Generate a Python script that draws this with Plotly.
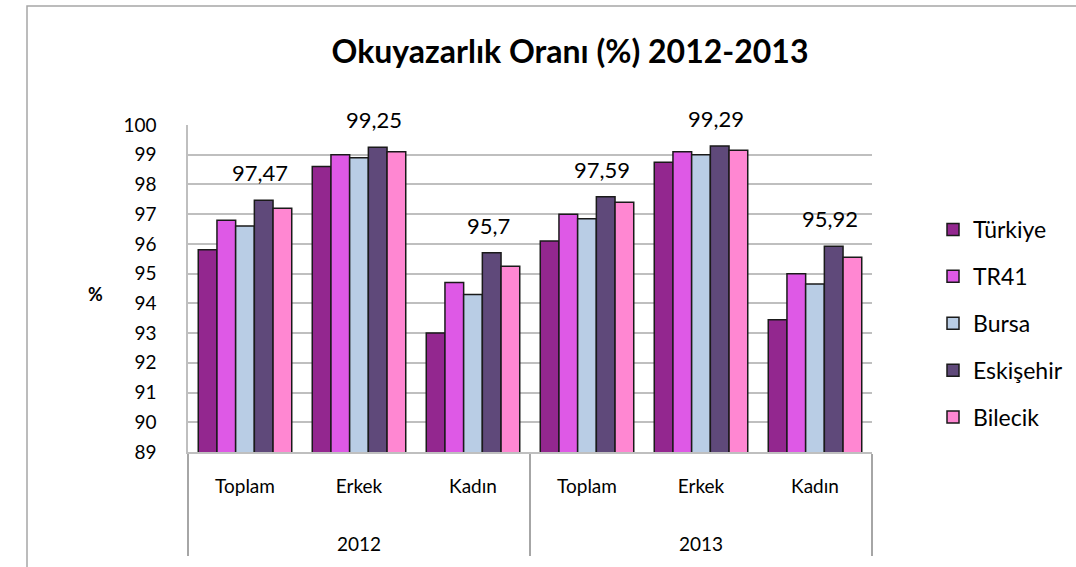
import plotly.graph_objects as go

years = ["2012", "2012", "2012", "2013", "2013", "2013"]
groups = ["Toplam", "Erkek", "Kadın", "Toplam", "Erkek", "Kadın"]

series_names = ["Türkiye", "TR41", "Bursa", "Eskişehir", "Bilecik"]
turkiye = [95.8, 98.6, 93.0, 96.1, 98.75, 93.45]
tr41 = [96.8, 99.0, 94.7, 97.0, 99.1, 95.0]
bursa = [96.6, 98.9, 94.3, 96.85, 99.0, 94.65]
eskisehir = [97.47, 99.25, 95.7, 97.59, 99.29, 95.92]
bilecik = [97.2, 99.1, 95.25, 97.4, 99.15, 95.55]

colors = ["#93278F", "#DE59E6", "#B9CDE5", "#5F497A", "#FF87D2"]
values = [turkiye, tr41, bursa, eskisehir, bilecik]
labelled_series = "Eskişehir"

FONT = "Lato"
BARGAP = 0.18

# outer level shown lower, as in the reference
outer = ["<br><br>" + y for y in years]

fig = go.Figure()
for name, vals, col in zip(series_names, values, colors):
    fig.add_trace(go.Bar(
        name=name,
        x=[outer, groups],
        y=vals,
        marker=dict(color=col, line=dict(color="#1a1a1a", width=1.5)),
        legendgroup=name,
    ))

# data labels above the labelled series (slot offset from grouped-bar layout)
n = len(series_names)
k = series_names.index(labelled_series)
slot = (1 - BARGAP) / n
off = -(1 - BARGAP) / 2 + (k + 0.5) * slot
for i, v in enumerate(values[k]):
    fig.add_annotation(x=i + off - 0.03, y=v, xref="x", yref="y",
                       text=f"{v:g}".replace(".", ","), showarrow=False,
                       yanchor="bottom", yshift=12,
                       font=dict(size=22, family=FONT, color="#000000"))

PL, PR, PT, PB = 188, 872, 125, 452
PW, PH = PR - PL, PB - PT

fig.update_layout(
    width=1076, height=567,
    paper_bgcolor="white", plot_bgcolor="white",
    separators=",.",
    barmode="group", bargap=BARGAP, bargroupgap=0,
    margin=dict(l=PL, r=1076 - PR, t=PT, b=567 - PB, autoexpand=False),
    font=dict(family=FONT, size=18, color="#000000"),
    title=dict(text="<b>Okuyazarlık Oranı (%) 2012-2013</b>",
               x=570 / 1076, xanchor="center", y=1 - 52 / 567, yanchor="middle",
               font=dict(size=32, family=FONT, color="#000000")),
    legend=dict(x=(933 - PL) / PW, xanchor="left", y=(PB - 208) / PH, yanchor="top",
                font=dict(size=23, family=FONT),
                tracegroupgap=14, traceorder="grouped",
                itemwidth=30, bgcolor="rgba(0,0,0,0)"),
    showlegend=True,
)

fig.update_yaxes(range=[89, 100], dtick=1, showgrid=True,
                 gridcolor="#BFBFBF", gridwidth=2,
                 showline=True, linecolor="#BFBFBF", linewidth=1.5,
                 ticks="", ticklabelstandoff=26,
                 tickfont=dict(size=19, family=FONT), zeroline=False)
fig.update_xaxes(showline=True, linecolor="#BFBFBF", linewidth=1.5,
                 tickfont=dict(size=19, family=FONT), ticklabelstandoff=16,
                 showdividers=True, dividercolor="#A6A6A6", dividerwidth=1.5)

fig.add_annotation(text="<b>%</b>", xref="paper", yref="paper",
                   x=(86 - PL) / PW, y=(PB - 294) / PH,
                   showarrow=False, font=dict(size=18, family=FONT))

fig.add_shape(type="rect", xref="paper", yref="paper",
              x0=(27 - PL) / PW, x1=(1100 - PL) / PW,
              y0=-0.6, y1=(PB - 6) / PH,
              line=dict(color="#A6A6A6", width=1.5), fillcolor="rgba(0,0,0,0)",
              layer="below")

fig.write_html("out.html", config={"displayModeBar": False},
               post_script="document.body.style.margin='0';")
